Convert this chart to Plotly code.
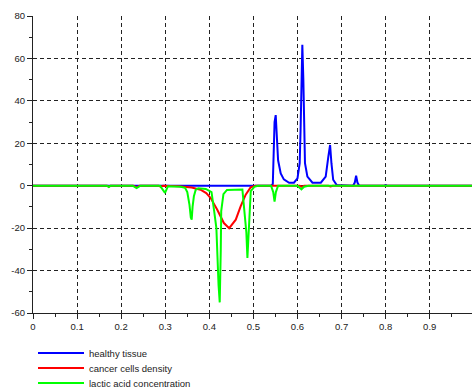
import plotly.graph_objects as go

# ---- data ----
healthy_x = [0, 0.540, 0.544, 0.546, 0.548, 0.5506, 0.553, 0.556, 0.562, 0.569, 0.581, 0.592,
             0.600, 0.605, 0.607, 0.6095, 0.611, 0.6133, 0.615, 0.617, 0.6225, 0.634, 0.653,
             0.664, 0.670, 0.674, 0.677, 0.681, 0.689, 0.726, 0.730, 0.733, 0.736, 0.740,
             0.799, 0.800, 0.801, 1.0]
healthy_y = [0, 0, 0.8, 23, 30, 33.3, 23, 12, 5.8, 3, 1.4, 1.4,
             3.5, 10.6, 26, 51, 66.4, 50, 26, 10.6, 4.3, 1.4, 1.4,
             4.3, 13.7, 19.2, 10.6, 2.8, 0.3, 0, 1.5, 4.7, 1.5, 0,
             0, 0.6, 0, 0]

cancer_x = [0, 0.168, 0.172, 0.176, 0.228, 0.235, 0.242, 0.285, 0.290, 0.295, 0.33, 0.36,
            0.380, 0.393, 0.403, 0.418, 0.433, 0.445, 0.460, 0.471, 0.4825, 0.494, 0.505,
            0.545, 0.55, 0.555, 0.605, 0.61, 0.615, 0.67, 0.675, 0.68, 1.0]
cancer_y = [0, 0, -0.5, 0, 0, -0.8, 0, 0, -0.5, 0, -0.2, -0.8,
            -1.9, -3.5, -5.8, -11.3, -17.6, -20, -16, -9.7, -4.2, -0.7, 0,
            0, -0.3, 0, 0, -0.5, 0, 0, -0.3, 0, 0]

lactic_x = [0, 0.168, 0.172, 0.176, 0.226, 0.235, 0.244, 0.288, 0.2995, 0.306, 0.335, 0.345,
            0.350, 0.355, 0.358, 0.360, 0.362, 0.365, 0.369, 0.375, 0.392, 0.405, 0.411,
            0.416, 0.421, 0.4236, 0.426, 0.427, 0.432, 0.440, 0.475, 0.480, 0.484, 0.4864,
            0.490, 0.494, 0.502, 0.51, 0.540, 0.545, 0.548, 0.551, 0.556, 0.60, 0.609,
            0.615, 0.625, 1.0]
lactic_y = [0, 0, -0.6, 0, 0, -1.1, 0, 0, -3.4, -0.3, -0.5, -1,
            -3, -9, -15, -16, -10, -5, -2, -1.2, -1.5, -3, -12,
            -20, -47, -55, -30, -12, -4, -2, -1.8, -12, -22, -34,
            -20, -2.5, -0.5, 0, 0, -3, -7.5, -3, 0, 0, -1.7,
            -0.5, 0, 0]

series_names = ["healthy tissue", "cancer cells density", "lactic acid concentration"]
series_colors = ["#0000ff", "#ff0000", "#00ff00"]

x_ticks = [0, 0.1, 0.2, 0.3, 0.4, 0.5, 0.6, 0.7, 0.8, 0.9]
x_tick_labels = ["0", "0.1", "0.2", "0.3", "0.4", "0.5", "0.6", "0.7", "0.8", "0.9"]
y_ticks = [-60, -40, -20, 0, 20, 40, 60, 80]
y_tick_labels = ["-60", "-40", "-20", "0", "20", "40", "60", "80"]

W, H = 472, 392
font_family = "Liberation Sans, Arial, sans-serif"

# ---- figure ----
fig = go.Figure()
legend_ids = ["legend", "legend2", "legend3"]
legend_rows_px = [353, 368, 383]
for xs, ys, name, col, lg in zip([healthy_x, cancer_x, lactic_x],
                                 [healthy_y, cancer_y, lactic_y],
                                 series_names, series_colors, legend_ids):
    fig.add_trace(go.Scatter(x=xs, y=ys, mode="lines", name=name, legend=lg,
                             line=dict(color=col, width=2)))

axis_common = dict(
    showline=True, linecolor="#222", linewidth=1,
    ticks="outside", ticklen=5, tickcolor="#222",
    showgrid=True, gridcolor="#222", gridwidth=1, griddash="4px,3px",
    zeroline=False, tickfont=dict(family=font_family, size=9.5, color="#222"),
    mirror=False, automargin=False,
)
fig.update_xaxes(range=[0, 0.9959], tickvals=x_ticks, ticktext=x_tick_labels,
                 minor=dict(ticks="outside", ticklen=3, tickcolor="#222", dtick=0.05, showgrid=False),
                 **axis_common)
fig.update_yaxes(range=[-60, 80], tickvals=y_ticks, ticktext=y_tick_labels,
                 minor=dict(ticks="outside", ticklen=3, tickcolor="#222", dtick=10, showgrid=False),
                 **axis_common)

legend_layout = {}
for lg, row in zip(legend_ids, legend_rows_px):
    legend_layout[lg] = dict(
        xref="container", yref="container",
        x=33 / W, y=1 - row / H, xanchor="left", yanchor="middle",
        font=dict(family=font_family, size=9.5, color="#222"),
        itemwidth=46, bgcolor="rgba(0,0,0,0)", borderwidth=0,
    )

fig.update_layout(
    width=W, height=H,
    margin=dict(l=33, r=0, t=16, b=79, autoexpand=False),
    paper_bgcolor="white", plot_bgcolor="white",
    showlegend=True,
    **legend_layout,
)

fig.write_html("out.html",
               config={"displayModeBar": False},
               post_script="document.body.style.margin='0';document.body.style.overflow='hidden';")
